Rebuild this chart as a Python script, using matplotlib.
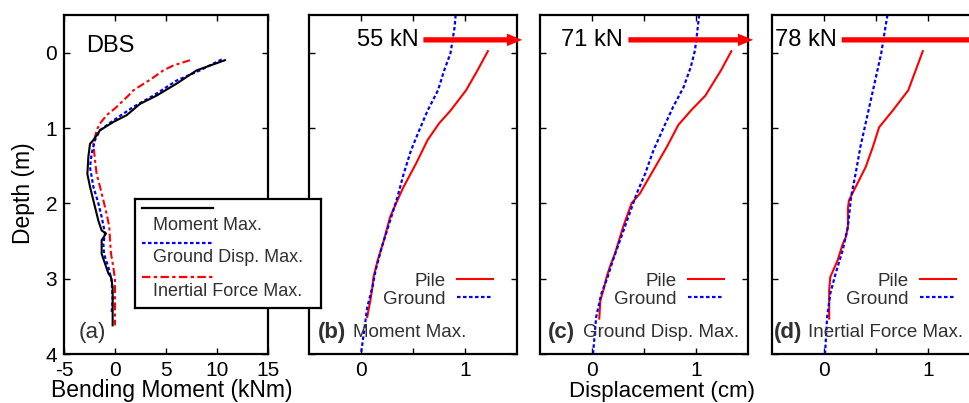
import matplotlib.pyplot as plt

plt.rcParams['font.family'] = ['Liberation Sans', 'DejaVu Sans']
plt.rcParams['axes.unicode_minus'] = False

# (a) bending moment profiles, depth in m, moment in kNm
mom_depth = [0.10, 0.235, 0.41, 0.57, 0.68, 0.83, 0.92, 1.03, 1.16, 1.21, 1.38, 1.61, 1.78,
             2.05, 2.23, 2.36, 2.40, 2.49, 2.67, 2.80, 2.93, 2.98, 3.11, 3.62]
mom_val = [10.78, 8.0, 6.05, 4.08, 2.45, 1.14, -0.16, -1.47, -2.12, -2.45, -2.61, -2.71, -2.45,
           -1.96, -1.63, -1.31, -0.88, -1.31, -1.31, -0.98, -0.65, -0.39, -0.23, -0.23]
gd_depth = [0.09, 0.235, 0.37, 0.57, 0.72, 0.90, 1.03, 1.16, 1.34, 1.52, 1.78, 2.0, 2.18,
            2.40, 2.54, 2.67, 2.85, 3.02, 3.28, 3.46]
gd_val = [10.46, 8.33, 6.05, 3.76, 1.8, -0.16, -1.47, -1.96, -2.29, -2.45, -2.12, -1.63, -1.31,
          -0.98, -1.14, -1.08, -0.65, -0.33, -0.23, -0.33]
if_depth = [0.10, 0.17, 0.235, 0.345, 0.50, 0.57, 0.74, 0.83, 0.94, 1.03, 1.21, 1.43, 1.61,
            1.78, 1.96, 2.14, 2.31, 2.49, 2.67, 2.85, 3.02, 3.20, 3.38, 3.62]
if_val = [7.35, 5.72, 4.74, 3.6, 1.8, 1.31, 0.0, -0.82, -1.47, -1.8, -2.12, -1.96, -1.8,
          -1.47, -1.14, -0.82, -0.56, -0.49, -0.39, -0.16, 0.0, 0.0, 0.0, 0.0]

# (b)-(d) displacement profiles, cm
pile_b_d = [-0.02, 0.235, 0.5, 0.77, 0.94, 1.16, 1.47, 1.78, 1.96, 2.18, 2.49, 2.76, 2.98, 3.11, 3.29, 3.51]
pile_b_x = [1.22, 1.12, 1.01, 0.86, 0.75, 0.64, 0.53, 0.41, 0.35, 0.28, 0.22, 0.16, 0.12, 0.11, 0.09, 0.06]
gr_b_d = [-0.5, -0.34, -0.16, 0.01, 0.235, 0.5, 0.77, 1.03, 1.30, 1.61, 1.92, 2.23, 2.58, 2.89, 3.11, 3.38, 3.69, 4.0]
gr_b_x = [0.91, 0.90, 0.88, 0.86, 0.80, 0.74, 0.64, 0.56, 0.48, 0.41, 0.35, 0.28, 0.20, 0.14, 0.11, 0.06, 0.03, 0.0]

pile_c_d = [-0.02, 0.235, 0.57, 0.77, 0.96, 1.25, 1.56, 1.87, 2.0, 2.31, 2.67, 2.85, 2.98, 3.15, 3.29, 3.53]
pile_c_x = [1.34, 1.24, 1.09, 0.95, 0.83, 0.72, 0.59, 0.46, 0.38, 0.30, 0.22, 0.17, 0.14, 0.11, 0.08, 0.07]
gr_c_d = [-0.5, -0.25, -0.03, 0.19, 0.46, 0.72, 0.99, 1.30, 1.61, 1.87, 2.14, 2.45, 2.76, 2.98, 3.20, 3.51, 4.0]
gr_c_x = [1.03, 1.01, 0.99, 0.95, 0.88, 0.78, 0.69, 0.59, 0.51, 0.43, 0.36, 0.28, 0.20, 0.15, 0.09, 0.04, 0.01]

pile_d_d = [-0.02, 0.5, 0.77, 0.99, 1.25, 1.52, 1.74, 1.96, 2.07, 2.31, 2.45, 2.54, 2.76, 2.98, 3.15, 3.53]
pile_d_x = [0.95, 0.81, 0.66, 0.53, 0.47, 0.40, 0.32, 0.24, 0.23, 0.23, 0.21, 0.18, 0.13, 0.06, 0.05, 0.05]
gr_d_d = [-0.5, -0.25, 0.01, 0.32, 0.63, 0.94, 1.25, 1.56, 1.92, 2.31, 2.62, 2.94, 3.2, 3.51, 4.0]
gr_d_x = [0.61, 0.58, 0.55, 0.50, 0.45, 0.40, 0.35, 0.31, 0.26, 0.23, 0.18, 0.11, 0.06, 0.03, 0.01]

loads = ['55 kN', '71 kN', '78 kN']
load_text_x = [0.55, 0.30, 0.12]
panel_tags = ['(b)', '(c)', '(d)']
panel_names = ['Moment Max.', 'Ground Disp. Max.', 'Inertial Force Max.']
name_x = [-0.075, -0.09, -0.155]
tag_x = [-0.41, -0.42, -0.485]

RED = '#ff0000'
BLUE = '#0000ff'
TXT = '#303030'
dot = (0, (1.6, 1.1))
dashdot = (0, (3.8, 1.5, 1.5, 1.5))

W, H = 970, 403
fig = plt.figure(figsize=(9.7, 4.03), dpi=100)


def style_axes(ax):
    for s in ax.spines.values():
        s.set_linewidth(1.6)
    ax.tick_params(direction='in', length=4, width=1, top=True, right=True,
                   labelsize=15, pad=5)
    ax.set_ylim(4, -0.5)
    ax.set_yticks([0, 1, 2, 3, 4])


bot = 1 - 354 / H
hgt = 339 / H

# panel (a)
ax = fig.add_axes([64 / W, bot, 204 / W, hgt])
style_axes(ax)
ax.set_xlim(-5, 15)
ax.set_xticks([-5, 0, 5, 10, 15])
ax.plot(if_val, if_depth, color=RED, lw=1.5, ls=dashdot)
ax.plot(gd_val, gd_depth, color=BLUE, lw=1.6, ls=dot)
ax.plot(mom_val, mom_depth, color='black', lw=1.5)
ax.text(-2.85, -0.09, 'DBS', fontsize=17, va='center')
ax.text(-3.6, 3.72, '(a)', fontsize=16, va='center', color=TXT)

# panels (b)-(d)
lefts = [309, 540, 772]
piles = [(pile_b_x, pile_b_d), (pile_c_x, pile_c_d), (pile_d_x, pile_d_d)]
grounds = [(gr_b_x, gr_b_d), (gr_c_x, gr_c_d), (gr_d_x, gr_d_d)]
for i in range(3):
    ax = fig.add_axes([lefts[i] / W, bot, 208 / W, hgt])
    style_axes(ax)
    ax.set_xlim(-0.5, 1.5)
    ax.set_xticks([0, 0.5, 1])
    ax.set_xticklabels(['0', '', '1'])
    ax.set_yticklabels([])
    p, = ax.plot(piles[i][0], piles[i][1], color=RED, lw=1.5)
    g, = ax.plot(grounds[i][0], grounds[i][1], color=BLUE, lw=1.6, ls=dot)
    ax.legend([p, g], ['Pile', 'Ground'], markerfirst=False, frameon=False,
              loc='upper right', bbox_to_anchor=(0.885, 0.24), fontsize=13.5,
              labelcolor=TXT, handlelength=1.95, handletextpad=0.6,
              labelspacing=0.05, borderpad=0, borderaxespad=0)
    ax.annotate('', xy=(1.55, -0.17), xytext=(load_text_x[i] + 0.05, -0.17),
                arrowprops=dict(arrowstyle='simple,head_length=1.1,head_width=0.9,tail_width=0.38',
                                color=RED, lw=0, shrinkA=0, shrinkB=0),
                annotation_clip=False, zorder=5)
    ax.text(load_text_x[i], -0.17, loads[i], fontsize=17, ha='right', va='center')
    ax.text(tag_x[i], 3.72, panel_tags[i], fontsize=16, fontweight='bold', va='center', color=TXT)
    ax.text(name_x[i], 3.72, panel_names[i], fontsize=13.5, va='center', color=TXT)

# key box for panel (a), drawn on top of both (a) and (b)
lg = fig.add_axes([135 / W, 1 - 308 / H, 186 / W, 109 / H])
lg.set_xlim(0, 1)
lg.set_ylim(0, 1)
lg.set_xticks([])
lg.set_yticks([])
for s in lg.spines.values():
    s.set_linewidth(1.6)
key_styles = [('black', '-'), (BLUE, dot), (RED, dashdot)]
key_names = ['Moment Max.', 'Ground Disp. Max.', 'Inertial Force Max.']
key_line_y = [0.917, 0.596, 0.284]
key_text_y = [0.76, 0.459, 0.147]
for k in range(3):
    lg.plot([0.04, 0.42], [key_line_y[k], key_line_y[k]], color=key_styles[k][0],
            ls=key_styles[k][1], lw=1.6)
    lg.text(0.097, key_text_y[k], key_names[k], fontsize=13, va='center', color=TXT)

fig.text(24 / W, 1 - 193 / H, 'Depth (m)', rotation=90, fontsize=16.5, ha='center', va='center')
fig.text(172 / W, 1 - 390 / H, 'Bending Moment (kNm)', fontsize=16.5, ha='center', va='center')
fig.text(662 / W, 1 - 391 / H, 'Displacement (cm)', fontsize=16, ha='center', va='center')

fig.savefig('out.png', dpi=100)
